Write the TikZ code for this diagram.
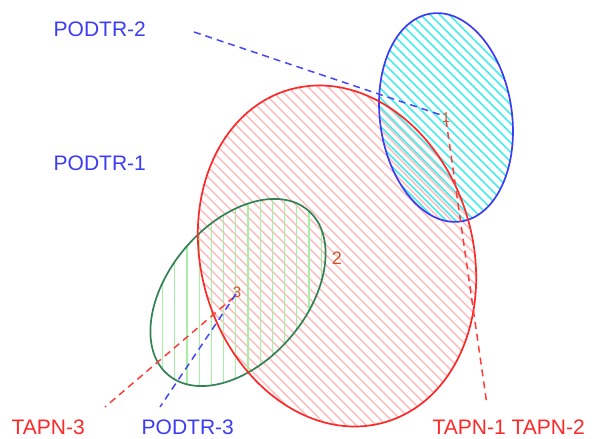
\documentclass[tikz,border=0pt]{standalone}
\usepackage{fontspec}
\setmainfont{Liberation Sans}
\begin{document}
\begin{tikzpicture}[x=1pt,y=1pt,
  lbl/.style={anchor=base west,inner sep=0pt,font=\fontsize{21}{21}\selectfont},
  num/.style={inner sep=0pt},
  outl/.style={line width=1.7pt},
  conn/.style={line width=1.5pt,dash pattern=on 7pt off 5pt}]
\definecolor{cred}{RGB}{255,40,40}
\definecolor{cblue}{RGB}{60,60,245}
\definecolor{cgreen}{RGB}{50,130,85}
\definecolor{hred}{RGB}{255,180,180}
\definecolor{hcyan}{RGB}{70,238,238}
\definecolor{hgreen}{RGB}{165,240,165}
\definecolor{cnum}{RGB}{205,85,40}
\definecolor{cdred}{RGB}{255,60,60}
\definecolor{cdblue}{RGB}{70,70,255}
\useasboundingbox[fill=white] (0,0) rectangle (592,439);
% red ellipse hatch
\begin{scope}
  \clip[rotate around={16:(337,183)}] (337,183) ellipse [x radius=136pt, y radius=173pt];
  \foreach \i in {0,10,...,1200} {\draw[hred,line width=1.35pt] (\i,-20) -- ++(-520,520);}
\end{scope}
% green ellipse hatch
\begin{scope}
  \clip[rotate around={49.5:(238,146.5)}] (238,146.5) ellipse [x radius=108pt, y radius=69pt];
  \foreach \k in {-5,...,20} {\draw[hgreen,line width=1.3pt] (187+12.2*\k,0) -- ++(0,439);}
\end{scope}
% cyan hatch
\begin{scope}
  \clip[rotate around={8:(446,321.5)}] (446,321.5) ellipse [x radius=66pt, y radius=105pt];
  \foreach \i in {0,9.5,...,700} {\draw[hcyan,line width=1.6pt] (\i,180) -- ++(-250,250);}
\end{scope}
% outlines
\draw[outl,cgreen,rotate around={49.5:(238,146.5)}] (238,146.5) ellipse [x radius=108pt, y radius=69pt];
\draw[outl,cblue,rotate around={8:(446,321.5)}] (446,321.5) ellipse [x radius=66pt, y radius=105pt];
\draw[outl,cred,rotate around={16:(337,183)}] (337,183) ellipse [x radius=136pt, y radius=173pt];
% points
\node[num,text=cnum,font=\fontsize{14}{14}\selectfont] (n1) at (446,321) {1};
\node[num,text=cnum,font=\fontsize{18}{18}\selectfont] (n2) at (337,181) {2};
\node[num,text=cnum,font=\fontsize{15}{15}\selectfont] (n3) at (237,147) {3};
\coordinate (e1) at (444,323);
\coordinate (e1r) at (446,319);
\coordinate (e3r) at (234,142);
\coordinate (e3b) at (236,145);
% labels
\node[lbl,text=cblue] (pod2) at (53.5,402) {PODTR-2};
\node[lbl,text=cblue] (pod1) at (53.5,268) {PODTR-1};
\node[lbl,text=cred] (tap3) at (11.5,4) {TAPN-3};
\node[lbl,text=cblue] (pod3) at (141.5,4) {PODTR-3};
\node[lbl,text=cred] (tap12) at (432.5,4) {TAPN-1 TAPN-2};
\coordinate (f2) at (194,407);
\coordinate (f12) at (487,34);
\coordinate (f3r) at (105,32);
\coordinate (f3b) at (160,32);
% connectors
\draw[conn,cdblue] (f2) -- (e1);
\draw[conn,cdred] (e1r) -- (f12);
\draw[conn,cdred] (e3r) -- (f3r);
\draw[conn,cdblue] (e3b) -- (f3b);
\end{tikzpicture}
\end{document}
